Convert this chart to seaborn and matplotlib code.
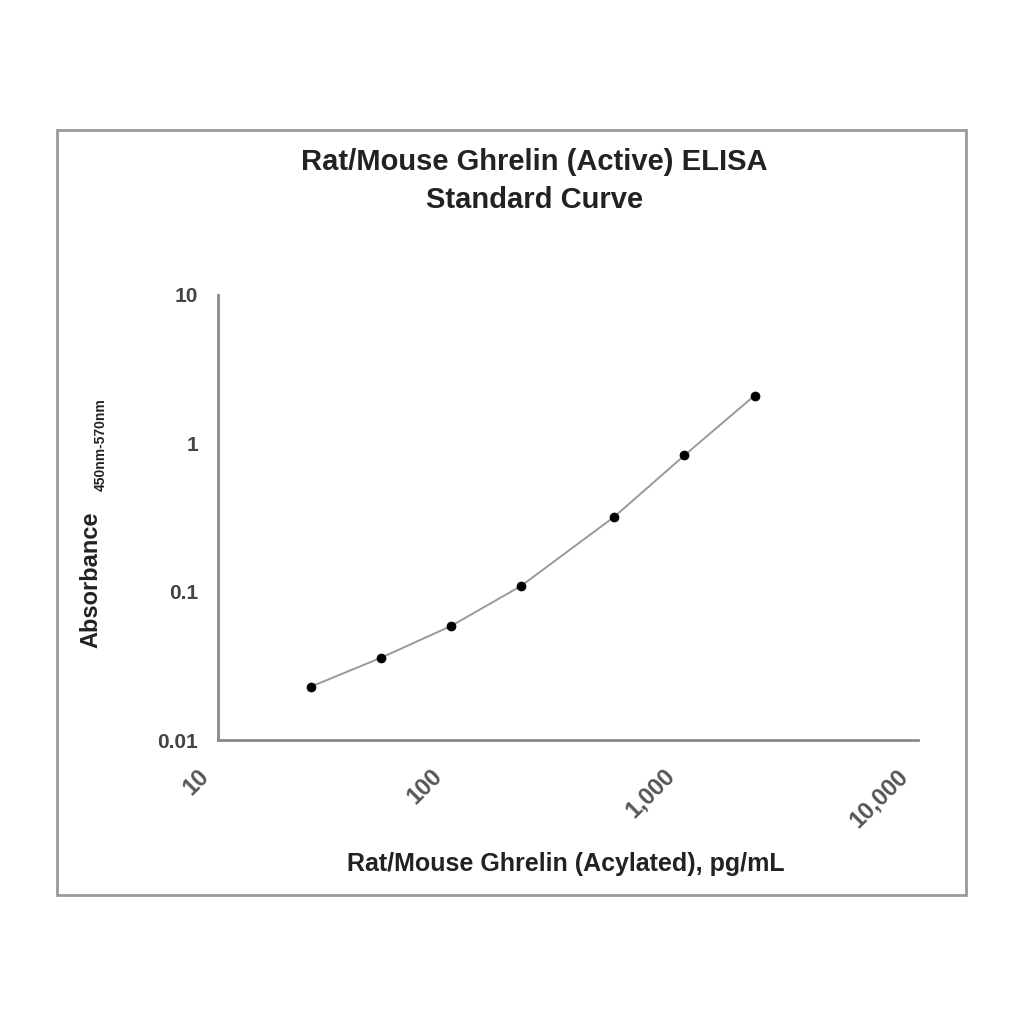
import matplotlib
matplotlib.use("Agg")
import matplotlib.pyplot as plt
import matplotlib.ticker as mticker
import matplotlib.transforms as mtransforms
from matplotlib.patches import Rectangle
import pandas as pd
import seaborn as sns

# standard curve values
conc = [25, 50, 100, 200, 500, 1000, 2000]
absorbance = [0.023, 0.036, 0.059, 0.11, 0.32, 0.83, 2.1]
x_ticks = [10, 100, 1000, 10000]
x_tick_labels = ["10", "100", "1,000", "10,000"]
y_ticks = [0.01, 0.1, 1, 10]
y_tick_labels = ["0.01", "0.1", "1", "10"]

df = pd.DataFrame({"conc": conc, "absorbance": absorbance})

sns.set_style("white")
plt.rcParams["font.family"] = ["Liberation Sans", "DejaVu Sans"]

fig = plt.figure(figsize=(10.24, 10.24), dpi=100)
ax = fig.add_axes([0.213, 0.277, 0.683, 0.435])

sns.lineplot(data=df, x="conc", y="absorbance", ax=ax, color="#999999", linewidth=1.4)
sns.scatterplot(data=df, x="conc", y="absorbance", ax=ax, color="black", s=42, edgecolor="black", zorder=3)

ax.set_xscale("log")
ax.set_yscale("log")
ax.set_xlim(10, 10000)
ax.set_ylim(0.01, 10)
ax.xaxis.set_minor_locator(mticker.NullLocator())
ax.yaxis.set_minor_locator(mticker.NullLocator())
ax.set_xticks(x_ticks)
ax.set_xticklabels([])
ax.set_yticks(y_ticks)
ax.set_yticklabels(y_tick_labels, fontsize=15, color="#444444", fontweight="bold")

# rotated x tick labels, placed a bit left of each tick like the original
lab_tr = mtransforms.blended_transform_factory(ax.transData, ax.transAxes) + \
    mtransforms.ScaledTranslation(-0.21, -0.24, fig.dpi_scale_trans)
for xv, txt in zip(x_ticks, x_tick_labels):
    ax.text(xv, 0, txt, transform=lab_tr, rotation=45, ha="right", va="top",
            rotation_mode="anchor", fontsize=17, fontweight="bold", color="#555555")

for side in ["top", "right"]:
    ax.spines[side].set_visible(False)
for side in ["left", "bottom"]:
    ax.spines[side].set_color("#8a8a8a")
    ax.spines[side].set_linewidth(2)
ax.tick_params(axis="both", which="major", length=5, width=1.2, color="#8a8a8a",
               direction="inout")
ax.tick_params(axis="y", pad=12)

ax.set_xlabel("Rat/Mouse Ghrelin (Acylated), pg/mL", fontsize=18, fontweight="bold", color="#222222")
ax.xaxis.set_label_coords(0.497, -0.25)
ax.set_ylabel("Absorbance", fontsize=17, fontweight="bold", color="#222222")
ax.yaxis.set_label_coords(-0.165, 0.36)
ax.text(-0.168, 0.665, "450nm-570nm", transform=ax.transAxes, rotation=90, ha="center", va="center",
        fontsize=10, fontweight="bold", color="#222222")

fig.text(0.522, 0.823, "Rat/Mouse Ghrelin (Active) ELISA\nStandard Curve", ha="center", va="center",
         fontsize=21, fontweight="bold", color="#222222", linespacing=1.45)

fig.patches.append(Rectangle((0.056, 0.126), 0.887, 0.747, transform=fig.transFigure,
                             fill=False, edgecolor="#9a9a9a", linewidth=2))

fig.savefig("out.png", dpi=100, facecolor="white")
